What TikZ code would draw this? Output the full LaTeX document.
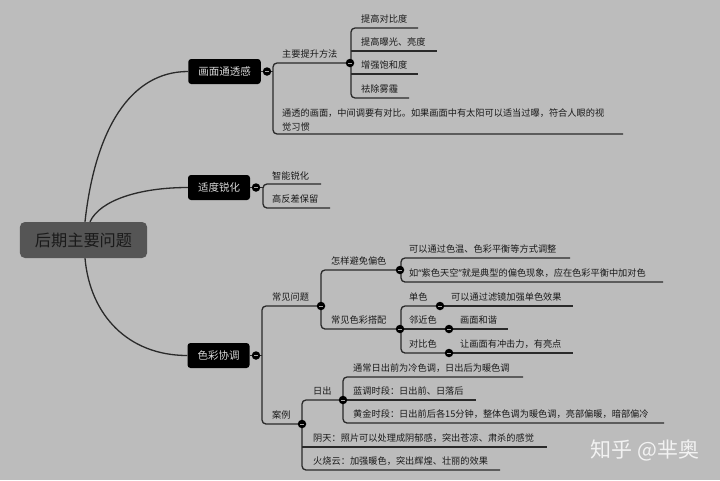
\documentclass[tikz,border=0pt]{standalone}
\usepackage{fontspec}
\setmainfont{Noto Sans CJK SC}
\newfontfamily\latinq{Noto Sans}
\definecolor{bgc}{HTML}{BCBCBC}
\definecolor{linec}{HTML}{2A2A2A}
\definecolor{txt}{HTML}{1A1A1A}
\definecolor{topictxt}{HTML}{D8D8D8}
\definecolor{rootfill}{HTML}{555555}
\definecolor{wm}{HTML}{F2F2F2}
\tikzset{
  conn/.style={draw=linec, line width=1.3pt},
  brk/.style={conn, rounded corners=4pt},
  leaf/.style={anchor=base west, inner sep=0pt, text=txt, font=\fontsize{9.2}{11}\selectfont},
  topic/.style={fill=black, text=topictxt, rounded corners=3pt, minimum height=25pt, inner xsep=10pt, inner ysep=0pt, font=\fontsize{10.5}{12}\selectfont},
  rootbox/.style={fill=rootfill, text=txt, rounded corners=5pt, minimum height=36pt, minimum width=127pt, inner xsep=15pt, font=\fontsize{16.2}{18}\selectfont},
  dot/.style={circle, fill=black, minimum size=8.5pt, inner sep=0pt,
    path picture={\draw[gray!70, line width=0.7pt] ([xshift=-2pt]path picture bounding box.center) -- ([xshift=2pt]path picture bounding box.center);}},
}
\begin{document}
\begin{tikzpicture}[x=1pt,y=-1pt]
\fill[bgc] (0,0) rectangle (720,480);
\useasboundingbox (0,0) rectangle (720,480);

% root and main topics
\node[rootbox] (root) at (83.5,240) {后期主要问题};
\node[topic] (A) at (224.5,71.5) {画面通透感};
\node[topic] (B) at (219,187.5) {适度锐化};
\node[topic] (C) at (218.5,355.5) {色彩协调};

\draw[conn] ([xshift=1.5pt]root.north) .. controls (95,130) and (130,71.5) .. (A.west);
\draw[conn] ([xshift=6.5pt]root.north) .. controls (100,200) and (140,187.5) .. (B.west);
\draw[conn] ([xshift=1.5pt]root.south) .. controls (90,315) and (128,355.5) .. (C.west);

% ---------- A branch ----------
\coordinate (cA) at (267,71.5);
\coordinate (cA1) at (350,63);
\coordinate (eA2) at (623,134);
\draw[conn] (A.east) -- (cA) -- (273,71.5);
\draw[brk] (cA1) -- (273,63) -- (273,134) -- (eA2);
\node[leaf] (tA1) at (282,57.5) {主要提升方法};
\node[leaf] (tA2a) at (282,116) {通透的画面，中间调要有对比。如果画面中有太阳可以适当过曝，符合人眼的视};
\node[leaf] (tA2b) at (282,130.5) {觉习惯};

\coordinate (eA11) at (418,28);
\coordinate (eA12) at (437,51);
\coordinate (eA13) at (418,74);
\coordinate (eA14) at (409,98);
\draw[brk] (eA11) -- (351,28) -- (351,98) -- (eA14);
\draw[conn] (351,51) -- (eA12);
\draw[conn] (351,74) -- (eA13);
\node[leaf] (tA11) at (361,22.5) {提高对比度};
\node[leaf] (tA12) at (361,45.5) {提高曝光、亮度};
\node[leaf] (tA13) at (361,68.5) {增强饱和度};
\node[leaf] (tA14) at (361,92.5) {祛除雾霾};

% ---------- B branch ----------
\coordinate (cB) at (256,187.5);
\coordinate (eB1) at (321,184);
\coordinate (eB2) at (330,208);
\draw[conn] (B.east) -- (cB) -- (263,187.5);
\draw[brk] (eB1) -- (263,184) -- (263,208) -- (eB2);
\node[leaf] (tB1) at (272,179) {智能锐化};
\node[leaf] (tB2) at (272,202.5) {高反差保留};

% ---------- C branch ----------
\coordinate (cC) at (256,355.5);
\coordinate (cC1) at (321,306);
\coordinate (cC2) at (302,424);
\draw[conn] (C.east) -- (cC) -- (262,355.5);
\draw[brk] (cC1) -- (262,306) -- (262,424) -- (cC2);
\node[leaf] (tC1) at (272,300.5) {常见问题};
\node[leaf] (tC2) at (272,418.5) {案例};

% C1
\coordinate (cC11) at (400,270);
\coordinate (cC12) at (400,329);
\draw[brk] (cC11) -- (321,270) -- (321,329) -- (cC12);
\node[leaf] (tC11) at (331,264.5) {怎样避免偏色};
\node[leaf] (tC12) at (331,323.5) {常见色彩搭配};

% C11
\coordinate (eC111) at (570,258);
\coordinate (eC112) at (663,282);
\draw[brk] (eC111) -- (401,258) -- (401,282) -- (eC112);
\node[leaf] (tC111) at (409,252.5) {可以通过色温、色彩平衡等方式调整};
\node[leaf] (tC112) at (409,276.5) {如{\latinq “}紫色天空{\latinq ”}就是典型的偏色现象，应在色彩平衡中加对色};

% C12
\coordinate (cC121) at (440,306);
\coordinate (cC122) at (449,329);
\coordinate (cC123) at (449,353);
\draw[brk] (cC121) -- (401,306) -- (401,353) -- (cC123);
\draw[conn] (cC12) -- (cC122);
\node[leaf] (tC121) at (409,300.5) {单色};
\node[leaf] (tC122) at (409,323.5) {邻近色};
\node[leaf] (tC123) at (409,347.5) {对比色};
\coordinate (eC121) at (573,306);
\coordinate (eC122) at (508,329);
\coordinate (eC123) at (573,353);
\draw[conn] (cC121) -- (eC121);
\draw[conn] (cC122) -- (eC122);
\draw[conn] (cC123) -- (eC123);
\node[leaf] (tC121b) at (451,300.5) {可以通过滤镜加强单色效果};
\node[leaf] (tC122b) at (460,323.5) {画面和谐};
\node[leaf] (tC123b) at (460,347.5) {让画面有冲击力，有亮点};

% C2
\coordinate (cC21) at (343,400);
\coordinate (eC22) at (547,447);
\coordinate (eC23) at (500,470);
\draw[brk] (cC21) -- (302,400) -- (302,470) -- (eC23);
\draw[conn] (302,447) -- (eC22);
\node[leaf] (tC21) at (313,394.5) {日出};
\node[leaf] (tC22) at (313,441.5) {阴天：照片可以处理成阴郁感，突出苍凉、肃杀的感觉};
\node[leaf] (tC23) at (313,464.5) {火烧云：加强暖色，突出辉煌、壮丽的效果};

% C21
\coordinate (eC211) at (523,377);
\coordinate (eC212) at (476,400);
\coordinate (eC213) at (664,423);
\draw[brk] (eC211) -- (343,377) -- (343,423) -- (eC213);
\draw[conn] (cC21) -- (eC212);
\node[leaf] (tC211) at (353,371.5) {通常日出前为冷色调，日出后为暖色调};
\node[leaf] (tC212) at (353,394.5) {蓝调时段：日出前、日落后};
\node[leaf] (tC213) at (353,417.5) {黄金时段：日出前后各15分钟，整体色调为暖色调，亮部偏暖，暗部偏冷};

% collapse dots
\foreach \p in {cA,cA1,cB,cC,cC1,cC2,cC11,cC12,cC121,cC122,cC123,cC21}
  \node[dot] at (\p) {};

% watermark
\node[text=wm, font=\fontsize{21}{24}\selectfont, inner sep=0pt] (wmark) at (645,450) {知乎 @芈奥};
\end{tikzpicture}
\end{document}
